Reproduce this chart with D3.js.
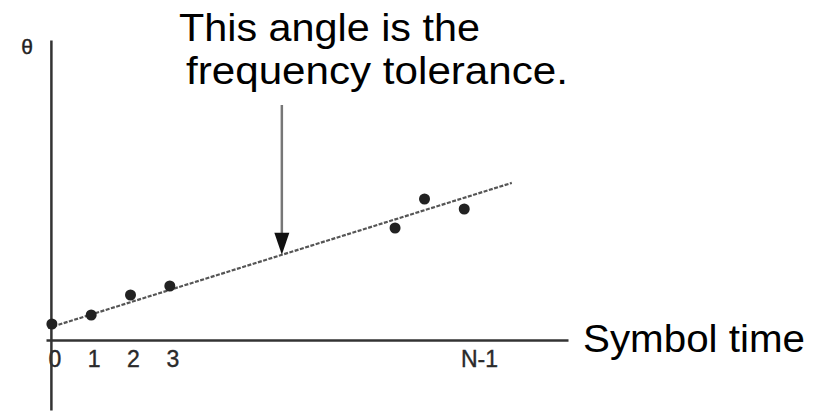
<!DOCTYPE html>
<html>
<head>
<meta charset="utf-8">
<script src="https://cdn.jsdelivr.net/npm/d3@7/dist/d3.min.js"></script>
<style>
  html, body { margin: 0; padding: 0; background: #fff; }
  svg { display: block; font-family: "Liberation Sans", Arial, sans-serif; }
</style>
</head>
<body>
<svg id="chart" width="827" height="415"></svg>
<script>
// Phase samples, one per symbol
const symbolIndex = [0, 1, 2, 3, 8.73, 9.48, 10.49];
const phaseValues = [1.6, 2.5, 4.5, 5.4, 11.2, 14.1, 13.1];

// Fitted phase line: θ = intercept + slope * t
const fitIntercept = 1.32;
const fitSlope = 1.23;
const fitRange = [-0.1, 11.7];

// Time-axis ticks
const tickPositions = [0, 1, 2, 3, 10.8];
const tickLabels = ["0", "1", "2", "3", "N-1"];

// Where the annotation arrow points on the fitted line
const arrowAt = 5.85;

const svg = d3.select("#chart");

const x = d3.scaleLinear().domain([-0.15, 13.13]).range([46, 568]);
const y = d3.scaleLinear().domain([-7, 30]).range([410, 40]);

// Time axis (horizontal)
const xAxis = svg.append("g")
  .attr("transform", `translate(0,${y(0)})`)
  .call(d3.axisBottom(x)
    .tickValues(tickPositions)
    .tickFormat((d, i) => tickLabels[i])
    .tickSize(0)
    .tickPadding(11));
xAxis.select(".domain").attr("stroke", "#333").attr("stroke-width", 2.5);
xAxis.selectAll("text")
  .attr("font-size", 23)
  .attr("font-family", "Liberation Sans, Arial, sans-serif")
  .attr("fill", "#2a2a2a")
  .attr("stroke", "#2a2a2a")
  .attr("stroke-width", 0.4)
  .attr("dx", 2.5);

// Phase axis (vertical)
const yAxis = svg.append("g")
  .attr("transform", `translate(${x(0) - 1},0)`)
  .call(d3.axisLeft(y).tickValues([]).tickSizeOuter(0));
yAxis.select(".domain").attr("stroke", "#333").attr("stroke-width", 2.5);

svg.append("text")
  .attr("x", 27).attr("y", 54)
  .attr("text-anchor", "middle")
  .attr("font-size", 21)
  .attr("fill", "#222")
  .attr("stroke", "#222")
  .attr("stroke-width", 0.4)
  .text("θ");

// Fitted line
const fitLine = d3.line()
  .x(d => x(d))
  .y(d => y(fitIntercept + fitSlope * d));
svg.append("path")
  .datum(fitRange)
  .attr("d", fitLine)
  .attr("fill", "none")
  .attr("stroke", "#555")
  .attr("stroke-width", 2.2)
  .attr("stroke-dasharray", "4,1.5");

// Sample points
svg.append("g")
  .selectAll("circle")
  .data(symbolIndex)
  .join("circle")
  .attr("cx", d => x(d))
  .attr("cy", (d, i) => y(phaseValues[i]))
  .attr("r", 5.5)
  .attr("fill", "#222");

// Annotation arrow
const ax = x(arrowAt);
const tipY = y(fitIntercept + fitSlope * arrowAt);
svg.append("line")
  .attr("x1", ax).attr("x2", ax)
  .attr("y1", 105).attr("y2", tipY - 18)
  .attr("stroke", "#777")
  .attr("stroke-width", 2.5);
svg.append("path")
  .attr("d", `M${ax - 7.5},${tipY - 22} L${ax + 7.5},${tipY - 22} L${ax},${tipY} Z`)
  .attr("fill", "#111");

// Annotation text
svg.append("text")
  .attr("x", 179).attr("y", 41)
  .attr("font-size", 38)
  .attr("fill", "#000")
  .attr("textLength", 301)
  .attr("lengthAdjust", "spacingAndGlyphs")
  .text("This angle is the");
svg.append("text")
  .attr("x", 186).attr("y", 84)
  .attr("font-size", 38)
  .attr("fill", "#000")
  .attr("textLength", 382)
  .attr("lengthAdjust", "spacingAndGlyphs")
  .text("frequency tolerance.");

// Time-axis title
svg.append("text")
  .attr("x", 583).attr("y", 352)
  .attr("font-size", 38)
  .attr("fill", "#000")
  .attr("textLength", 222)
  .attr("lengthAdjust", "spacingAndGlyphs")
  .text("Symbol time");
</script>
</body>
</html>
